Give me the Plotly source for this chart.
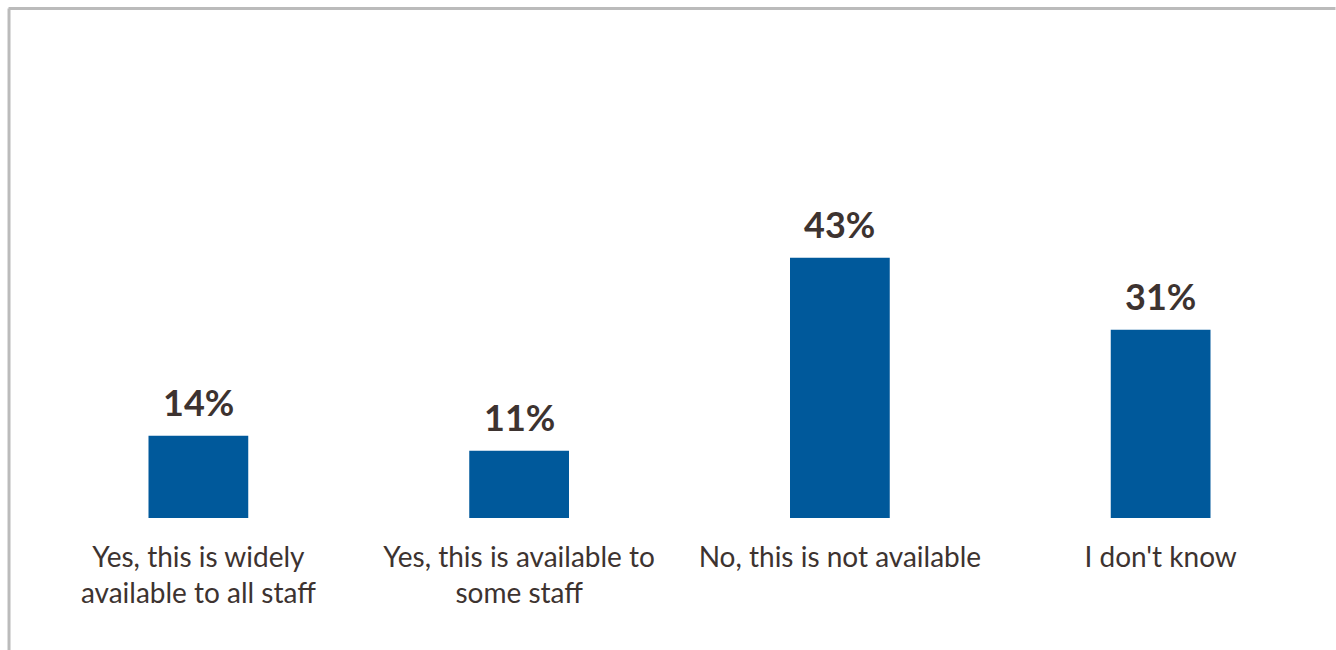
import plotly.graph_objects as go

categories = ["Yes, this is widely<br>available to all staff",
              "Yes, this is available to<br>some staff",
              "No, this is not available",
              "I don't know"]
values = [13.6, 11.1, 43.0, 31.1]
labels = ["14%", "11%", "43%", "31%"]

W, H = 1336, 650
ml, mr, mt, mb = 37.5, 14.5, 155, 132
pw, ph = W - ml - mr, H - mt - mb

fig = go.Figure(go.Bar(
    x=categories, y=values,
    marker=dict(color="#00599B", line=dict(width=0)),
    width=0.311,
))

for c, v, t in zip(categories, values, labels):
    fig.add_annotation(x=c, y=v, text="<b>%s</b>" % t, showarrow=False,
                       yanchor="bottom", yshift=10,
                       font=dict(family="Lato", size=36, color="#3d3330"))

def px_x(p):
    return (p - ml) / pw

def px_y(p):
    return (H - mb - p) / ph

line = dict(color="#BBBBBB", width=3)
fig.add_shape(type="line", xref="paper", yref="paper",
              x0=px_x(8), x1=px_x(W), y0=px_y(8.5), y1=px_y(8.5), line=line)
fig.add_shape(type="line", xref="paper", yref="paper",
              x0=px_x(8.5), x1=px_x(8.5), y0=px_y(8.5), y1=px_y(H), line=line)

fig.update_layout(
    width=W, height=H,
    margin=dict(l=ml, r=mr, t=mt, b=mb, pad=0),
    plot_bgcolor="white", paper_bgcolor="white",
    showlegend=False,
    xaxis=dict(showgrid=False, showline=False, ticks="",
               tickfont=dict(family="Lato", size=28, color="#3d3330"),
               ticklabelstandoff=20),
    yaxis=dict(range=[0, 60], visible=False),
)

fig.write_html("out.html")
